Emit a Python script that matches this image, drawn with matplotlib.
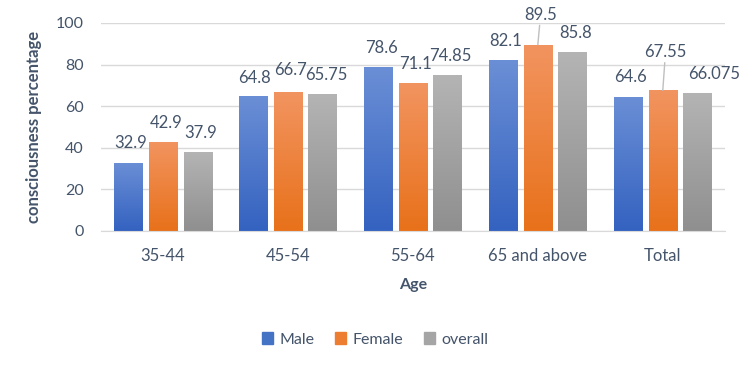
import numpy as np
import matplotlib
matplotlib.use("Agg")
import matplotlib.pyplot as plt
from matplotlib.colors import LinearSegmentedColormap

plt.rcParams['font.family'] = ['Lato', 'DejaVu Sans']

age_groups = ['35-44', '45-54', '55-64', '65 and above', 'Total']
male = [32.9, 64.8, 78.6, 82.1, 64.6]
female = [42.9, 66.7, 71.1, 89.5, 67.55]
overall = [37.9, 65.75, 74.85, 85.8, 66.075]
male_labels = ['32.9', '64.8', '78.6', '82.1', '64.6']
female_labels = ['42.9', '66.7', '71.1', '89.5', '67.55']
overall_labels = ['37.9', '65.75', '74.85', '85.8', '66.075']

text_color = '#44546a'
grid_color = '#d9d9d9'

series = [
    ('Male', male, male_labels, ('#6b8fd6', '#3462c0'), '#4472c4'),
    ('Female', female, female_labels, ('#f29460', '#e8711a'), '#ed7d31'),
    ('overall', overall, overall_labels, ('#b4b4b4', '#8f8f8f'), '#a5a5a5'),
]

# extra nudges (points) for labels Excel moved to avoid overlap
nudge = {('Female', 1): (0, 2), ('Male', 1): (-1, -1), ('overall', 1): (1, 0),
         ('Female', 3): (0, 8), ('Female', 4): (0, 14), ('overall', 4): (10, 0)}

fig = plt.figure(figsize=(7.5, 3.69), dpi=100)
ax = fig.add_axes([0.134, 0.374, 0.833, 0.564])

x = np.arange(len(age_groups))
width = 0.225
step = 0.277

grad = np.linspace(0, 1, 256).reshape(-1, 1)
handles = []
for i, (name, vals, labels, (top, bottom), solid) in enumerate(series):
    pos = x + (i - 1) * step
    bars = ax.bar(pos, vals, width, color='none', edgecolor='none', zorder=2)
    cmap = LinearSegmentedColormap.from_list(name, [bottom, top])
    for j, b in enumerate(bars):
        bx, by = b.get_x(), b.get_y()
        bw, bh = b.get_width(), b.get_height()
        im = ax.imshow(grad, cmap=cmap, origin='lower', aspect='auto',
                       extent=[bx, bx + bw, by, by + bh], zorder=2)
        im.set_clip_path(b)
        dx, dy = nudge.get((name, j), (0, 0))
        arrow = None
        if dy > 5:
            arrow = dict(arrowstyle='-', color='#bfbfbf', lw=1, shrinkA=0, shrinkB=0)
        ax.annotate(labels[j], xy=(bx + bw / 2, by + bh),
                    xytext=(2 + dx, 8 + dy), textcoords='offset points',
                    ha='center', va='bottom', fontsize=12, color=text_color,
                    arrowprops=arrow, zorder=3)
    handles.append(plt.Rectangle((0, 0), 1, 1, color=solid))

ax.set_xlim(-0.5, len(age_groups) - 0.5)
ax.set_ylim(0, 100)
ax.set_yticks(range(0, 101, 20))
ax.set_xticks(x)
ax.set_xticklabels(age_groups)
ax.tick_params(axis='both', length=0, labelsize=11.5, colors=text_color)
ax.tick_params(axis='x', pad=12, labelsize=12)
ax.tick_params(axis='y', pad=12)
ax.yaxis.grid(True, color=grid_color, lw=1, zorder=0)
ax.set_axisbelow(True)
for s in ['top', 'right', 'left']:
    ax.spines[s].set_visible(False)
ax.spines['bottom'].set_color(grid_color)

ax.set_xlabel('Age', fontsize=11.5, fontweight='bold', color=text_color, labelpad=10)
ax.set_ylabel('consciousness percentage', fontsize=12, fontweight='bold',
              color=text_color, labelpad=10)

fig.legend(handles, [s[0] for s in series], loc='center', bbox_to_anchor=(0.5, 0.08),
           ncol=3, frameon=False, fontsize=11.5, handlelength=0.7, handleheight=0.7,
           handletextpad=0.4, columnspacing=1.3, labelcolor=text_color)

fig.savefig('out.png', dpi=100)
